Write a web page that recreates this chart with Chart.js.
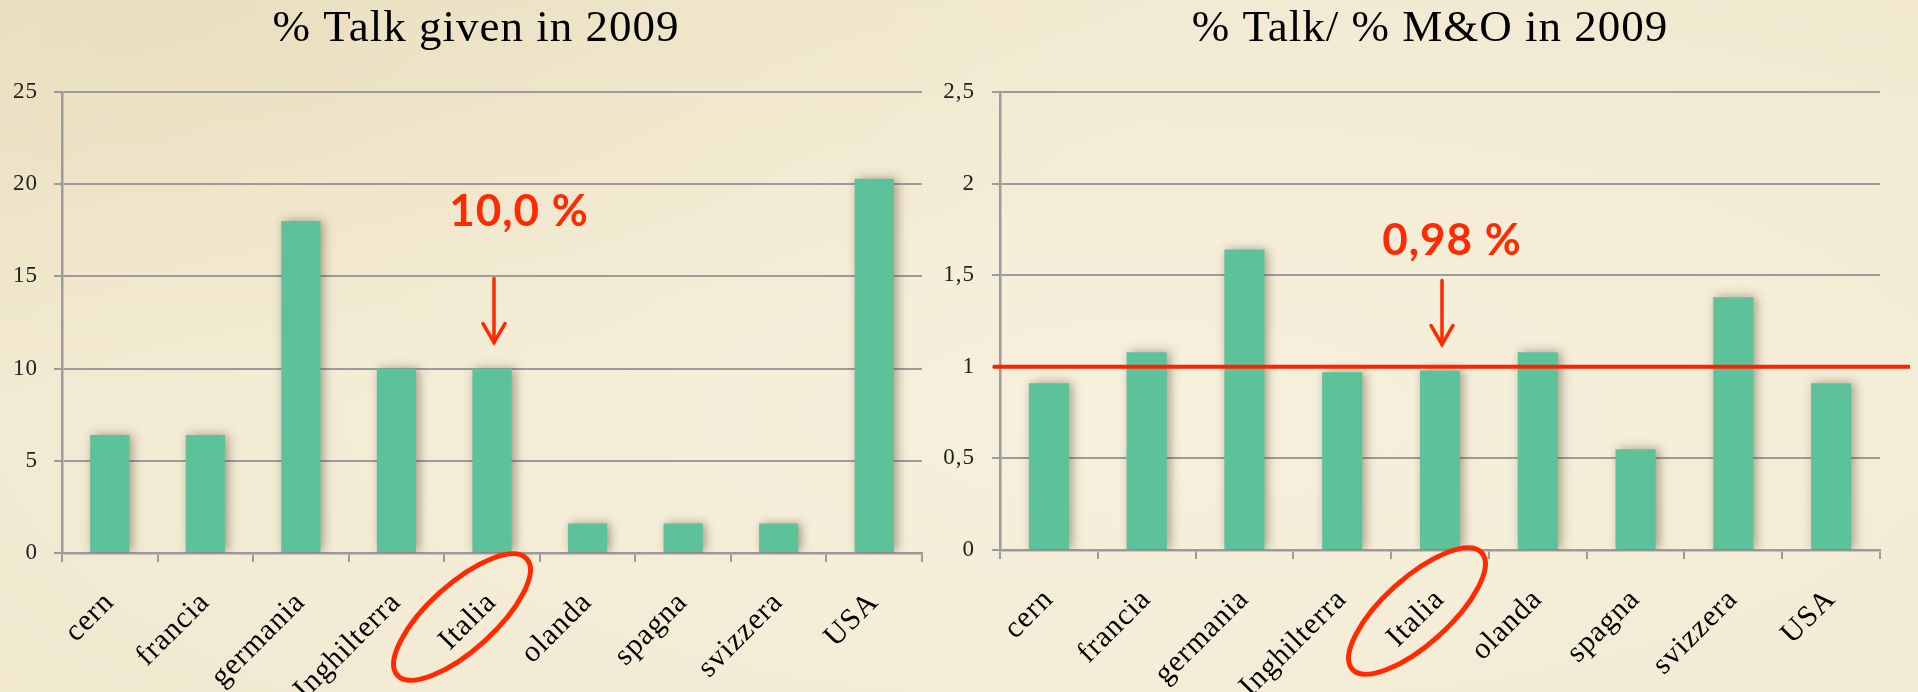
<!DOCTYPE html>
<html>
<head>
<meta charset="utf-8">
<script src="https://cdn.jsdelivr.net/npm/chart.js@4.4.1/dist/chart.umd.min.js"></script>
<style>
  body {
    margin: 0;
    width: 1918px;
    height: 692px;
    overflow: hidden;
    background:
      radial-gradient(ellipse at 10% 5%, rgba(222, 206, 160, 0.3) 0%, rgba(222, 206, 160, 0) 40%),
      radial-gradient(ellipse at 60% 60%, #f6f0dd 0%, #f3ebd4 60%, #eee5cb 100%);
  }
  .box { position: absolute; top: 0; height: 692px; }
  #left { left: 0; width: 930px; }
  #right { left: 930px; width: 988px; }
</style>
</head>
<body>
<div class="box" id="left"><canvas id="talkChart"></canvas></div>
<div class="box" id="right"><canvas id="ratioChart"></canvas></div>
<script>
// Data
const countries = ["cern", "francia", "germania", "Inghilterra", "Italia", "olanda", "spagna", "svizzera", "USA"]
const talkShare = [6.4, 6.4, 18.0, 10.0, 10.0, 1.6, 1.6, 1.6, 20.3]
const talkRatio = [0.91, 1.08, 1.64, 0.97, 0.98, 1.08, 0.55, 1.38, 0.91]
const talkTicks = [0, 5, 10, 15, 20, 25]
const ratioTicks = [0, 0.5, 1, 1.5, 2, 2.5]
const highlighted = "Italia"
const talkNote = "10,0 %"
const ratioNote = "0,98 %"
const ratioReference = 1

const RED = "#ff2a00"
const GRID = "#9b9b9b"

// bars get a soft drop shadow like the Keynote style
const barShadow = {
  id: "barShadow",
  beforeDatasetsDraw(chart) {
    const ctx = chart.ctx
    ctx.save()
    ctx.shadowColor = "rgba(70, 50, 20, 0.45)"
    ctx.shadowBlur = 10
    ctx.shadowOffsetX = 3
    ctx.shadowOffsetY = 0
  },
  afterDatasetsDraw(chart) {
    chart.ctx.restore()
  },
}

// slightly wider letters, closer to the original serif
const spacing = {
  id: "spacing",
  beforeUpdate(chart) {
    chart.ctx.letterSpacing = "1px"
  },
  beforeDraw(chart) {
    chart.ctx.letterSpacing = "1px"
  },
}

// chart heading, centred where the slide has it
const heading = {
  id: "heading",
  afterDraw(chart, args, opts) {
    const ctx = chart.ctx
    ctx.save()
    ctx.fillStyle = "#000"
    ctx.font = "45px 'Liberation Serif'"
    ctx.textAlign = "center"
    ctx.textBaseline = "middle"
    ctx.fillText(opts.text, opts.x, 29)
    ctx.restore()
  },
}

// red value, arrow and ring round the highlighted country
const highlight = {
  id: "highlight",
  afterDraw(chart, args, opts) {
    const { ctx } = chart
    const x = chart.scales.x
    const y = chart.scales.y
    const i = countries.indexOf(highlighted)
    const bx = x.getPixelForValue(i)
    const top = y.getPixelForValue(chart.data.datasets[0].data[i])

    ctx.save()
    ctx.strokeStyle = RED
    ctx.fillStyle = RED
    ctx.font = "bold 44px Lato"
    ctx.textAlign = "center"
    ctx.textBaseline = "middle"
    ctx.fillText(opts.text, bx + opts.textDx, opts.textY)

    const ax = bx + 2
    const y1 = top - 26
    const y0 = y1 - 64
    ctx.lineWidth = 3.5
    ctx.lineCap = "round"
    ctx.beginPath()
    ctx.moveTo(ax, y0)
    ctx.lineTo(ax, y1)
    ctx.stroke()
    ctx.beginPath()
    ctx.moveTo(ax - 11, y1 - 19)
    ctx.lineTo(ax, y1)
    ctx.lineTo(ax + 11, y1 - 19)
    ctx.stroke()

    ctx.lineWidth = 5
    ctx.beginPath()
    ctx.ellipse(bx + opts.ringDx, y.bottom + opts.ringDy, 87, 33, (-42 * Math.PI) / 180, 0, 2 * Math.PI)
    ctx.stroke()
    ctx.restore()
  },
}

// horizontal red line at ratio = 1
const referenceLine = {
  id: "referenceLine",
  afterDatasetsDraw(chart) {
    const { ctx, chartArea } = chart
    const yy = chart.scales.y.getPixelForValue(ratioReference)
    ctx.save()
    ctx.strokeStyle = "#ff2200"
    ctx.lineWidth = 4
    ctx.beginPath()
    ctx.moveTo(chartArea.left - 7, yy)
    ctx.lineTo(chart.width - 8, yy)
    ctx.stroke()
    ctx.restore()
  },
}

function comma(v) {
  return String(v).replace(".", ",")
}

function makeChart(id, opts) {
  const ticks = opts.ticks
  return new Chart(document.getElementById(id), {
    type: "bar",
    data: {
      labels: countries,
      datasets: [
        {
          data: opts.values,
          backgroundColor: "#5cc29a",
          borderWidth: 0,
          barPercentage: 0.41,
          categoryPercentage: 1,
        },
      ],
    },
    options: {
      responsive: true,
      maintainAspectRatio: false,
      animation: false,
      devicePixelRatio: 1,
      layout: {
        padding: { left: 0, right: opts.padRight, top: 92, bottom: 0 },
      },
      plugins: {
        legend: { display: false },
        tooltip: { enabled: false },
        heading: { text: opts.title, x: opts.titleX },
        highlight: opts.note,
      },
      scales: {
        x: {
          grid: {
            drawOnChartArea: false,
            drawTicks: true,
            tickLength: 9,
            color: GRID,
            lineWidth: 2,
          },
          border: { color: GRID, width: 2.5 },
          ticks: {
            autoSkip: false,
            minRotation: 45,
            maxRotation: 45,
            padding: 23,
            color: "#000",
            font: { family: "Liberation Serif", size: 30 },
          },
          afterFit(scale) {
            scale.height = opts.xHeight
          },
        },
        y: {
          min: ticks[0],
          max: ticks[ticks.length - 1],
          grid: {
            tickLength: 8,
            color: GRID,
            lineWidth: 2,
          },
          border: { color: GRID, width: 2.5 },
          ticks: {
            stepSize: ticks[1] - ticks[0],
            padding: opts.tickPad,
            color: "#222",
            font: { family: "Liberation Serif", size: 23 },
            callback: (v) => comma(v),
          },
          afterFit(scale) {
            scale.width = opts.yWidth
          },
        },
      },
    },
    plugins: opts.plugins,
  })
}

makeChart("talkChart", {
  title: "% Talk given in 2009",
  titleX: 476,
  values: talkShare,
  ticks: talkTicks,
  padRight: 8,
  yWidth: 62,
  xHeight: 139,
  tickPad: 16,
  note: { text: talkNote, textDx: 27, textY: 212, ringDx: -30, ringDy: 64 },
  plugins: [spacing, barShadow, heading, highlight],
})

makeChart("ratioChart", {
  title: "% Talk/ % M&O in 2009",
  titleX: 500,
  values: talkRatio,
  ticks: ratioTicks,
  padRight: 38,
  yWidth: 70,
  xHeight: 142,
  tickPad: 17,
  note: { text: ratioNote, textDx: 12, textY: 241, ringDx: -23, ringDy: 61 },
  plugins: [spacing, barShadow, referenceLine, heading, highlight],
})
</script>
</body>
</html>
